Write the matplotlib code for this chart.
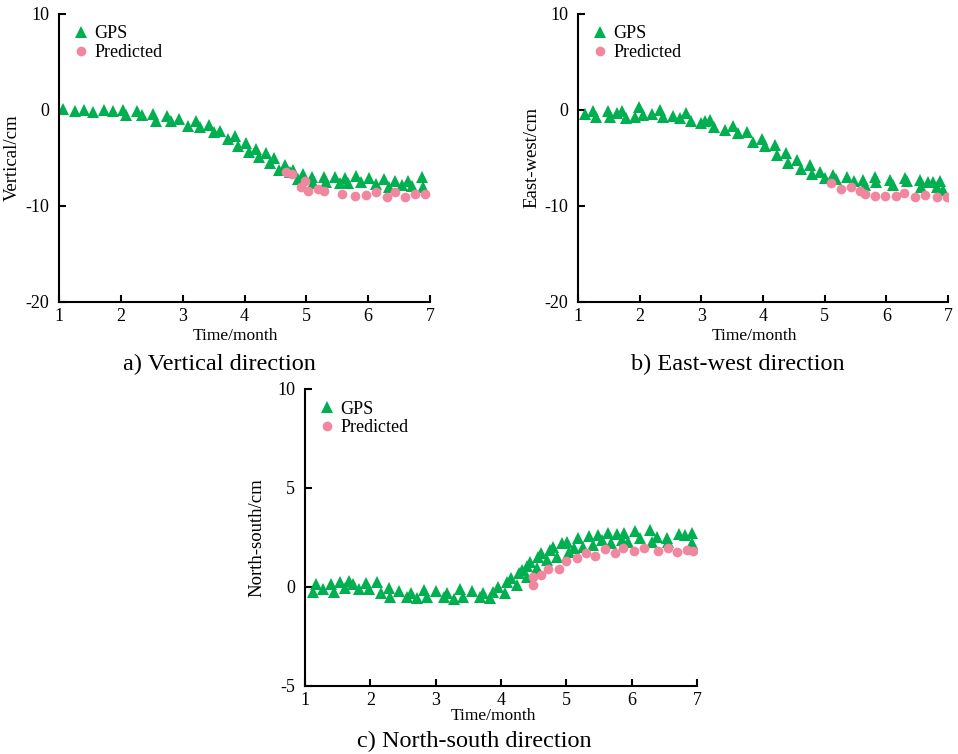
import matplotlib
matplotlib.use("Agg")
import matplotlib.pyplot as plt

plt.rcParams['font.family'] = ['Liberation Serif', 'DejaVu Serif']
plt.rcParams['font.size'] = 13
plt.rcParams['axes.unicode_minus'] = False

# =========================
# DATA
# =========================

# a) vertical
vert_gps_t = [1.07, 1.26, 1.41, 1.55, 1.72, 1.87, 2.04, 2.09, 2.26, 2.35, 2.52, 2.57, 2.74, 2.81,
              2.94, 3.09, 3.21, 3.28, 3.43, 3.51, 3.60, 3.74, 3.84, 3.90, 4.02, 4.08, 4.19, 4.24,
              4.34, 4.41, 4.47, 4.56, 4.66, 4.74, 4.79, 4.86, 4.95, 5.09, 5.11, 5.28, 5.31, 5.46,
              5.54, 5.63, 5.68, 5.81, 5.89, 6.01, 6.12, 6.25, 6.33, 6.43, 6.54, 6.65, 6.71, 6.87, 6.89]
vert_gps = [0.07, -0.14, 0.0, -0.17, 0.0, -0.14, 0.0, -0.52, -0.14, -0.55, -0.42, -1.11, -0.59, -1.11,
            -0.94, -1.67, -1.18, -1.80, -1.56, -2.33, -2.22, -2.99, -2.67, -3.75, -3.40, -4.34, -4.06, -4.93,
            -4.51, -5.49, -5.03, -6.25, -5.76, -6.42, -6.25, -7.22, -6.67, -7.01, -7.57, -7.01, -7.47, -7.01,
            -7.64, -7.08, -7.64, -6.88, -7.47, -7.12, -7.71, -7.15, -7.99, -7.36, -7.81, -7.36, -7.92, -7.01, -7.99]
vert_pred_t = [4.67, 4.77, 4.91, 4.97, 5.03, 5.19, 5.29, 5.57, 5.78, 5.97, 6.13, 6.30, 6.43, 6.60, 6.76, 6.92]
vert_pred = [-6.42, -6.70, -7.99, -7.36, -8.44, -8.23, -8.40, -8.78, -8.96, -8.85, -8.51, -9.03, -8.58, -9.03, -8.72, -8.75]

# b) east-west
ew_gps_t = [1.11, 1.25, 1.30, 1.49, 1.52, 1.63, 1.71, 1.78, 1.92, 1.99, 2.06, 2.20, 2.33, 2.38,
            2.54, 2.65, 2.76, 2.83, 2.99, 3.06, 3.14, 3.21, 3.38, 3.52, 3.60, 3.74, 3.84, 3.98,
            4.04, 4.19, 4.22, 4.37, 4.41, 4.55, 4.62, 4.76, 4.79, 4.92, 5.00, 5.14, 5.19, 5.36,
            5.48, 5.63, 5.65, 5.82, 5.84, 6.06, 6.11, 6.30, 6.33, 6.55, 6.57, 6.68, 6.76, 6.82, 6.87, 6.92]
ew_gps = [-0.42, -0.07, -0.76, -0.07, -0.76, -0.28, -0.07, -0.80, -0.70, 0.35, -0.49, -0.42, 0.0, -0.70,
          -0.63, -0.83, -0.35, -1.15, -1.32, -1.20, -1.04, -1.80, -2.08, -1.67, -2.43, -2.29, -3.30, -3.02,
          -3.75, -3.65, -4.69, -4.44, -5.49, -5.21, -6.18, -5.73, -6.67, -6.42, -7.12, -6.77, -7.22, -6.94,
          -7.36, -7.29, -7.81, -7.01, -7.47, -7.29, -7.81, -7.12, -7.36, -7.29, -7.99, -7.47, -7.47, -7.99, -7.36, -8.33]
ew_pred_t = [5.11, 5.26, 5.43, 5.57, 5.65, 5.82, 5.98, 6.16, 6.29, 6.46, 6.63, 6.82, 6.98]
ew_pred = [-7.64, -8.23, -8.05, -8.40, -8.75, -8.92, -8.92, -8.96, -8.61, -9.10, -8.89, -9.10, -9.10]

# c) north-south
ns_gps_t = [1.12, 1.17, 1.27, 1.39, 1.45, 1.54, 1.61, 1.67, 1.74, 1.83, 1.93, 1.98, 2.10, 2.16,
            2.28, 2.30, 2.44, 2.56, 2.62, 2.72, 2.82, 2.87, 3.01, 3.13, 3.18, 3.28, 3.37, 3.42,
            3.55, 3.68, 3.72, 3.83, 3.88, 3.96, 4.06, 4.09, 4.16, 4.24, 4.27, 4.32, 4.39, 4.40,
            4.45, 4.55, 4.57, 4.61, 4.70, 4.75, 4.80, 4.85, 4.93, 5.01, 5.04, 5.11, 5.18, 5.26,
            5.34, 5.41, 5.49, 5.54, 5.64, 5.69, 5.77, 5.85, 5.88, 5.95, 6.05, 6.13, 6.28, 6.31,
            6.38, 6.54, 6.56, 6.72, 6.82, 6.92, 6.92]
ns_gps = [-0.24, 0.15, -0.12, 0.15, -0.24, 0.24, -0.03, 0.32, 0.13, -0.12, 0.22, -0.12, 0.27, -0.29,
          -0.07, -0.49, -0.19, -0.49, -0.29, -0.57, -0.15, -0.52, -0.20, -0.52, -0.32, -0.62, -0.12, -0.49,
          -0.19, -0.49, -0.29, -0.57, -0.24, 0.02, -0.32, 0.27, 0.44, 0.10, 0.69, 0.86, 0.49, 1.06,
          1.28, 0.94, 1.50, 1.73, 1.36, 1.87, 2.04, 1.53, 2.21, 2.29, 1.78, 1.95, 2.46, 2.04,
          2.58, 2.12, 2.63, 2.37, 2.71, 2.21, 2.68, 2.37, 2.74, 2.29, 2.83, 2.46, 2.88, 2.29,
          2.54, 2.46, 2.29, 2.68, 2.63, 2.74, 2.24]
ns_pred_t = [4.49, 4.49, 4.61, 4.72, 4.88, 4.99, 5.17, 5.30, 5.44, 5.59, 5.75, 5.87, 6.04, 6.19,
             6.41, 6.55, 6.69, 6.84, 6.94]
ns_pred = [0.10, 0.49, 0.61, 0.89, 0.89, 1.33, 1.45, 1.73, 1.58, 1.90, 1.70, 1.95, 1.83, 1.95,
           1.83, 1.95, 1.78, 1.87, 1.83]

x_ticks = [1, 2, 3, 4, 5, 6, 7]

GREEN = '#00B050'
PINK = '#F0879F'

# =========================
# FIGURE
# =========================

fig = plt.figure(figsize=(9.58, 7.54), dpi=100)

panels = [
    # rect, t_gps, gps, t_pred, pred, ylim, yticks, ylabel, caption x, xlabel x, caption y px, xlabel y px
    ([0.0616, 0.5995, 0.3873, 0.3820], vert_gps_t, vert_gps, vert_pred_t, vert_pred,
     (-20, 10), [-20, -10, 0, 10], 'Vertical/cm', 0.2286, 0.246, 364, 336),
    ([0.6033, 0.5995, 0.3862, 0.3820], ew_gps_t, ew_gps, ew_pred_t, ew_pred,
     (-20, 10), [-20, -10, 0, 10], 'East-west/cm', 0.7704, 0.787, 364, 336),
    ([0.3184, 0.0902, 0.4092, 0.3939], ns_gps_t, ns_gps, ns_pred_t, ns_pred,
     (-5, 10), [-5, 0, 5, 10], 'North-south/cm', 0.495, 0.5146, 741, 716),
]
captions = ['a) Vertical direction', 'b) East-west direction', 'c) North-south direction']

for (rect, tg, g, tp, p, ylim, yticks, ylab, capx, xlx, capy, xly), cap in zip(panels, captions):
    ax = fig.add_axes(rect)
    ax.plot(tg, g, linestyle='none', marker='^', markersize=8.5, color=GREEN,
            markeredgewidth=0, label='GPS', zorder=2)
    ax.plot(tp, p, linestyle='none', marker='o', markersize=7, color=PINK,
            markeredgewidth=0, label='Predicted', zorder=3)

    ax.set_xlim(1, 7)
    ax.set_ylim(*ylim)
    ax.set_xticks(x_ticks)
    ax.set_yticks(yticks)
    ax.spines['top'].set_visible(False)
    ax.spines['right'].set_visible(False)
    ax.spines['left'].set_linewidth(1.5)
    ax.spines['bottom'].set_linewidth(1.5)
    ax.tick_params(direction='in', length=5, width=1.5, labelsize=13)
    ax.tick_params(axis='x', pad=4)
    ax.tick_params(axis='y', pad=7)

    ax.set_ylabel(ylab, fontsize=13.5)
    ax.yaxis.set_label_coords(-0.102, 0.5)

    ax.legend(loc='upper left', bbox_to_anchor=(0.01, 0.985), frameon=False,
              fontsize=13, handletextpad=0.15, borderaxespad=0.0,
              labelspacing=0.1, handlelength=1.2)

    fig.text(xlx, 1 - xly / 754, 'Time/month', ha='center', va='center', fontsize=12.5)
    fig.text(capx, 1 - capy / 754, cap, ha='center', va='center', fontsize=17.5)

fig.savefig('out.png', dpi=100)
